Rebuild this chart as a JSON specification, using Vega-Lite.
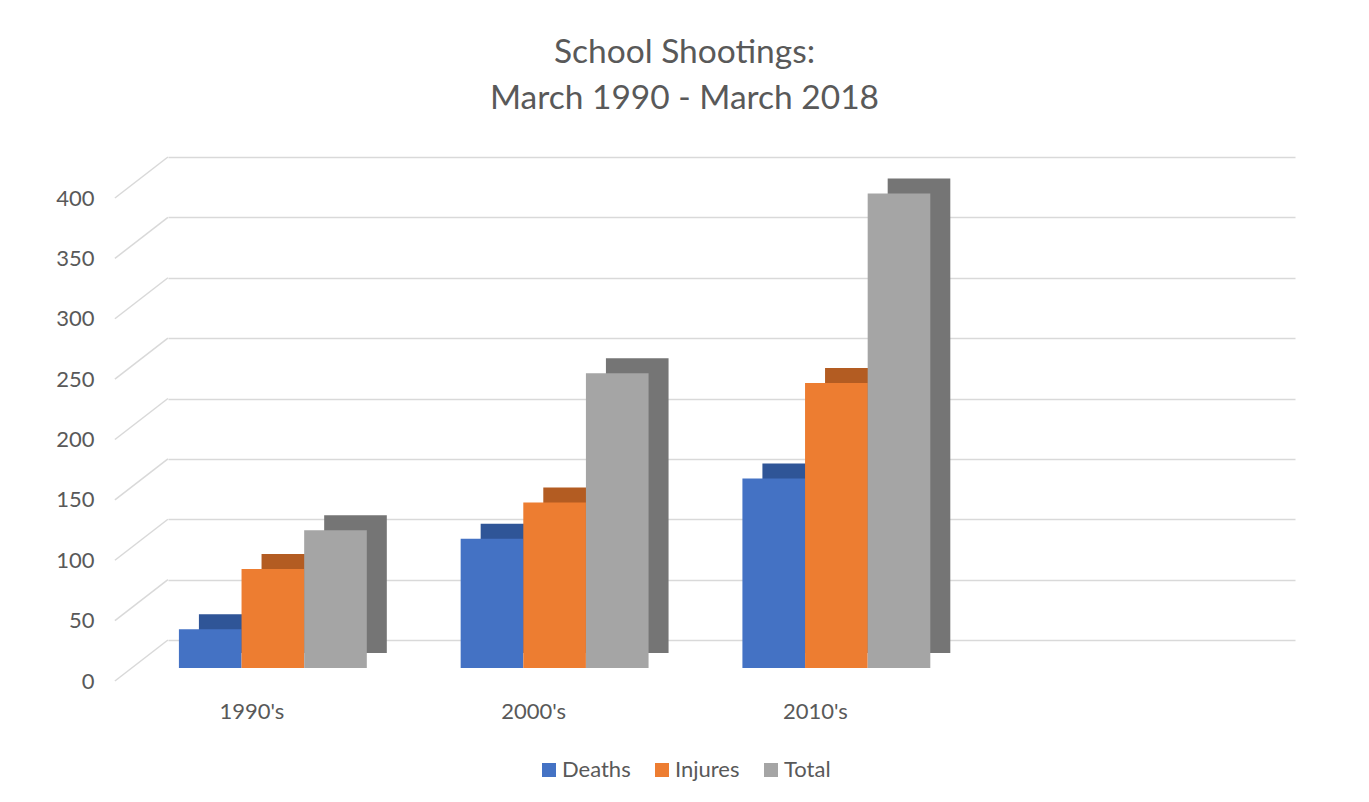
{
  "$schema": "https://vega.github.io/schema/vega-lite/v6.json",
  "autosize": {"type": "none"},
  "width": 1127,
  "height": 483,
  "padding": {"left": 168, "top": 157, "right": 74, "bottom": 162},
  "background": "white",
  "title": {
    "text": ["School Shootings:", "March 1990 - March 2018"],
    "font": "Lato",
    "fontSize": 33.5,
    "fontWeight": "normal",
    "color": "#595959",
    "lineHeight": 46,
    "anchor": "middle",
    "dx": -47,
    "offset": 40
  },
  "datasets": {
    "bars": [
      {"decade": "1990's", "series": "Deaths", "value": 32},
      {"decade": "1990's", "series": "Injures", "value": 82},
      {"decade": "1990's", "series": "Total", "value": 114},
      {"decade": "2000's", "series": "Deaths", "value": 107},
      {"decade": "2000's", "series": "Injures", "value": 137},
      {"decade": "2000's", "series": "Total", "value": 244},
      {"decade": "2010's", "series": "Deaths", "value": 157},
      {"decade": "2010's", "series": "Injures", "value": 236},
      {"decade": "2010's", "series": "Total", "value": 393}
    ],
    "grid": [
      {"v": 0}, {"v": 50}, {"v": 100}, {"v": 150}, {"v": 200},
      {"v": 250}, {"v": 300}, {"v": 350}, {"v": 400}
    ]
  },
  "config": {
    "view": {"stroke": null},
    "font": "Lato"
  },
  "resolve": {
    "scale": {"color": "independent", "xOffset": "independent"},
    "legend": {"color": "independent"}
  },
  "layer": [
    {
      "data": {"name": "grid"},
      "mark": {"type": "rule", "color": "#d9d9d9", "strokeWidth": 1.5, "xOffset": -100, "x2Offset": -47, "yOffset": 41, "y2Offset": 0},
      "encoding": {
        "x": {"datum": "1990's", "bandPosition": 0, "type": "nominal"},
        "x2": {"datum": "1990's", "bandPosition": 0},
        "y": {"field": "v", "type": "quantitative"},
        "y2": {"field": "v"}
      }
    },
    {
      "data": {"name": "bars"},
      "mark": {"type": "bar", "yOffset": 13},
      "encoding": {
        "x": {"field": "decade", "type": "nominal"},
        "xOffset": {
          "field": "series", "type": "nominal",
          "scale": {"domain": ["Deaths", "Injures", "Total"], "range": [-16, 171.9], "paddingInner": 0, "paddingOuter": 0}
        },
        "y": {"field": "value", "type": "quantitative"},
        "color": {
          "field": "series", "type": "nominal",
          "scale": {"domain": ["Deaths", "Injures", "Total"], "range": ["#2f5597", "#b35c22", "#757575"]},
          "legend": null
        }
      }
    },
    {
      "data": {"name": "bars"},
      "mark": {"type": "bar", "yOffset": 28},
      "encoding": {
        "x": {
          "field": "decade", "type": "nominal",
          "scale": {"domain": ["1990's", "2000's", "2010's", " "], "paddingInner": 0.333, "paddingOuter": 0.1665},
          "axis": {
            "title": null, "domain": false, "ticks": false, "tickSize": 0,
            "labelAngle": 0, "labelAlign": "center", "labelFont": "Lato", "labelFontSize": 22, "labelColor": "#595959",
            "labelBaseline": "middle", "labelPadding": 71, "labelOffset": -57, "grid": false
          }
        },
        "xOffset": {
          "field": "series", "type": "nominal",
          "scale": {"domain": ["Deaths", "Injures", "Total"], "range": [-36, 151.9], "paddingInner": 0, "paddingOuter": 0}
        },
        "y": {
          "field": "value", "type": "quantitative",
          "scale": {"domain": [0, 400], "nice": false, "zero": true},
          "axis": {
            "title": null, "domain": false, "ticks": false, "tickSize": 0,
            "values": [0, 50, 100, 150, 200, 250, 300, 350, 400],
            "labelFont": "Lato", "labelFontSize": 22, "labelColor": "#595959",
            "labelPadding": 74, "labelOffset": 41,
            "grid": true, "gridColor": "#d9d9d9", "gridWidth": 1.5
          }
        },
        "color": {
          "field": "series", "type": "nominal",
          "scale": {"domain": ["Deaths", "Injures", "Total"], "range": ["#4472c4", "#ed7d31", "#a5a5a5"]},
          "legend": {
            "title": null, "orient": "none", "direction": "horizontal",
            "legendX": 370, "legendY": 602,
            "symbolType": "square", "symbolSize": 196, "symbolStrokeWidth": 0,
            "labelFont": "Lato", "labelFontSize": 22, "labelColor": "#595959",
            "labelOffset": 2, "columnPadding": 20
          }
        }
      }
    }
  ]
}
